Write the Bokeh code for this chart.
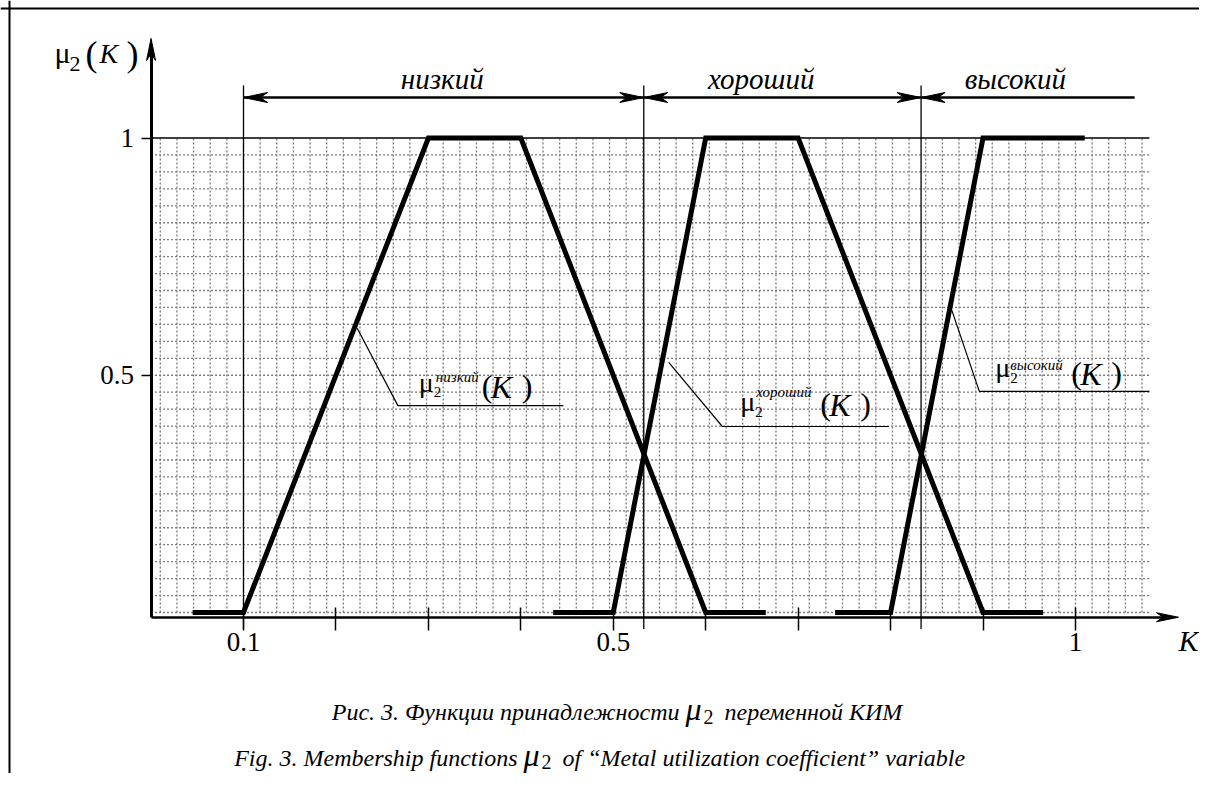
import numpy as np
from bokeh.plotting import figure
from bokeh.models import Range1d, LinearAxis, FixedTicker, Label, Span
from bokeh.core.properties import value
from bokeh.embed import file_html
from bokeh.resources import INLINE

# ---------------- data ----------------
low_k = [0.045, 0.1, 0.3, 0.4, 0.6, 0.665]
low_mu = [0, 0, 1, 1, 0, 0]
good_k = [0.435, 0.5, 0.6, 0.7, 0.9, 0.965]
good_mu = [0, 0, 1, 1, 0, 0]
high_k = [0.74, 0.8, 0.9, 1.01]
high_mu = [0, 0, 1, 1]

term_names = ["низкий", "хороший", "высокий"]
term_from = [0.1, 0.533, 0.833]
term_to = [0.533, 0.833, 1.064]
term_label_k = [0.315, 0.66, 0.935]
term_head_start = [True, True, True]
term_head_end = [True, True, False]

x_ticks = [0.1, 0.2, 0.3, 0.4, 0.5, 0.6, 0.7, 0.8, 0.9, 1.0]
x_tick_labels = {0.1: "0.1", 0.5: "0.5", 1.0: "1"}
y_ticks = [0.5, 1.0]
y_tick_labels = {0.5: "0.5", 1.0: "1"}

leader_start_k = [0.223, 0.560, 0.865]
leader_start_mu = [0.599, 0.527, 0.644]
leader_elbow_k = [0.267, 0.618, 0.896]
leader_elbow_mu = [0.436, 0.392, 0.466]
leader_end_k = [0.446, 0.798, 1.080]

caption_ru = ["Рис. 3. Функции принадлежности", "переменной  КИМ"]
caption_en = ["Fig. 3. Membership functions", "of  “Metal utilization coefficient” variable"]

# ---------------- layout constants ----------------
W, H = 1199, 773
SX, SY = 924.4, 474.5            # pixels per unit of K and of mu
X0 = 0.1 - 243 / SX
X1 = X0 + W / SX
Y1 = 612 / SY
Y0 = Y1 - H / SY

AXIS_MU = -0.01
X_TIP = 1.1115
Y_TIP = 1.2097
TOP_MU = 1.0853
TERM_LABEL_MU = 1.1022
TERM_FONT_PX = 29
VLINE_TOP = 1.1106
VLINE_BOT = -0.035
GRID_DK = 0.018
GRID_DMU = 1.0 / 28
GRID_RIGHT = 1.08
FONT = "Liberation Serif, Tinos, Times New Roman, DejaVu Serif, serif"
BASE_FIX = 0.37                  # em, correction of the svg text baseline


def k_at(px):
    return X0 + px / SX


def mu_at(py):
    return Y1 - py / SY


p = figure(width=W, height=H, x_range=Range1d(X0, X1), y_range=Range1d(Y0, Y1),
           output_backend="svg", toolbar_location=None,
           x_axis_location=None, y_axis_location=None, min_border=0,
           outline_line_color=None, background_fill_color="white",
           border_fill_color="white")
p.grid.visible = False

# dotted grid
vk = 0.1 + GRID_DK * np.arange(-5, 55)
p.segment(x0=vk, y0=0, x1=vk, y1=1, line_color="#7a7a7a", line_width=1.3, line_dash="2 2")
hm = GRID_DMU * np.arange(0, 28)
p.segment(x0=0, y0=hm, x1=GRID_RIGHT, y1=hm, line_color="#7a7a7a", line_width=1.3, line_dash="2 2")

# solid thin lines
p.segment(x0=0, y0=1, x1=GRID_RIGHT, y1=1, line_color="black", line_width=1.5)
p.segment(x0=term_from, y0=VLINE_BOT, x1=term_from, y1=VLINE_TOP, line_color="black", line_width=1.3)

# membership functions
for xs, ys in [(low_k, low_mu), (good_k, good_mu), (high_k, high_mu)]:
    p.line(xs, ys, line_color="black", line_width=5, line_join="miter", line_cap="butt")

# leaders
lx = [[a, b, c] for a, b, c in zip(leader_start_k, leader_elbow_k, leader_end_k)]
ly = [[a, b, b] for a, b in zip(leader_start_mu, leader_elbow_mu)]
p.multi_line(xs=lx, ys=ly, line_color="black", line_width=1.2)

# axes
xa = LinearAxis(fixed_location=AXIS_MU, ticker=FixedTicker(ticks=x_ticks),
                major_label_overrides={t: x_tick_labels.get(t, "") for t in x_ticks},
                bounds=(0, X_TIP - 0.01))
ya = LinearAxis(fixed_location=0, ticker=FixedTicker(ticks=y_ticks),
                major_label_overrides=y_tick_labels,
                bounds=(AXIS_MU, Y_TIP - 0.02))
for ax in (xa, ya):
    ax.axis_line_color = "black"
    ax.major_tick_line_color = "black"
    ax.major_tick_line_width = 1.5
    ax.minor_tick_line_color = None
    ax.major_label_text_font = FONT
    ax.major_label_text_font_size = "27px"
    ax.major_label_text_color = "black"
xa.axis_line_width = 2.5
xa.major_tick_in = 10
xa.major_tick_out = 13
xa.major_label_standoff = 3
ya.axis_line_width = 3
ya.major_tick_in = 0
ya.major_tick_out = 10
ya.major_label_standoff = 7
p.add_layout(xa, "below")
p.add_layout(ya, "left")


# arrowheads
def dart(tx, ty, ux, uy, L=24, Wd=10, notch=0.7):
    qx, qy = -uy, ux
    pts = [(0, 0), (-L * ux + Wd / 2 * qx, -L * uy + Wd / 2 * qy),
           (-notch * L * ux, -notch * L * uy), (-L * ux - Wd / 2 * qx, -L * uy - Wd / 2 * qy)]
    return [tx + a / SX for a, b in pts], [ty + b / SY for a, b in pts]


heads = [dart(X_TIP, AXIS_MU, 1, 0, 22, 9), dart(0, Y_TIP, 0, 1, 22, 9)]
for i in range(3):
    if term_head_start[i]:
        heads.append(dart(term_from[i], TOP_MU, -1, 0))
    if term_head_end[i]:
        heads.append(dart(term_to[i], TOP_MU, 1, 0))
p.patches(xs=[h[0] for h in heads], ys=[h[1] for h in heads], fill_color="black", line_color="black", line_width=1)

# term arrows and names
p.segment(x0=term_from, y0=TOP_MU, x1=term_to, y1=TOP_MU, line_color="black", line_width=2.5)
p.text(x=term_label_k, y=TERM_LABEL_MU + BASE_FIX * TERM_FONT_PX / SY, text=term_names,
       text_font=value(FONT), text_font_style="italic", text_font_size=f"{TERM_FONT_PX}px",
       text_align="center", text_baseline="alphabetic", text_color="black")


def put(x, y, text, size, style="normal", align="left"):
    # y is the wanted visual baseline (data units)
    p.add_layout(Label(x=x, y=y + BASE_FIX * size / SY, text=text, text_font=FONT,
                       text_font_size=f"{size}px", text_font_style=style, text_align=align,
                       text_baseline="alphabetic", text_color="black"))


# annotation labels  mu_2^term (K)   (pixel offsets from the leader elbow)
mu_dx = [21, 18, 16]
mu_dy = [-13, -15, -14]
sub_dy = [-8, -9, -8]
sup_dx = [38, 34, 31]
sup_dy = [-23, -29, -21]
paren_dx = [84, 98, 92]
k_dy = [-7, -10, -6]
for i in range(3):
    ex, ey = leader_elbow_k[i], leader_elbow_mu[i]

    def at(dx, dy):
        return ex + dx / SX, ey - dy / SY

    put(*at(mu_dx[i], mu_dy[i]), "μ", 28)
    put(*at(mu_dx[i] + 15, sub_dy[i]), "2", 15)
    put(*at(sup_dx[i], sup_dy[i]), term_names[i], 15, "italic")
    put(*at(paren_dx[i], k_dy[i] - 1), "(", 32)
    put(*at(paren_dx[i] + 9, k_dy[i]), "K", 32, "italic")
    put(*at(paren_dx[i] + 40, k_dy[i] - 1), ")", 32)

# axis titles
put(k_at(54), mu_at(63), "μ", 30)
put(k_at(69), mu_at(72), "2", 22)
put(k_at(85), mu_at(67), "(", 36)
put(k_at(99), mu_at(63), "K", 28, "italic")
put(k_at(126), mu_at(67), ")", 36)
put(k_at(1178), mu_at(651), "K", 30, "italic")

# captions
put(k_at(679), mu_at(720), caption_ru[0], 24, "italic", "right")
put(k_at(685), mu_at(720), "μ", 32, "italic")
put(k_at(703), mu_at(724), "2", 20)
put(k_at(724), mu_at(720), caption_ru[1], 24, "italic")
put(k_at(517), mu_at(766), caption_en[0], 24, "italic", "right")
put(k_at(523), mu_at(766), "μ", 32, "italic")
put(k_at(541), mu_at(769), "2", 20)
put(k_at(562), mu_at(766), caption_en[1], 24, "italic")

# page border (top and left)
p.add_layout(Span(location=mu_at(8), dimension="width", line_color="black", line_width=2))
p.add_layout(Span(location=k_at(9), dimension="height", line_color="black", line_width=2))

open("out.html", "w").write(file_html(p, INLINE))
